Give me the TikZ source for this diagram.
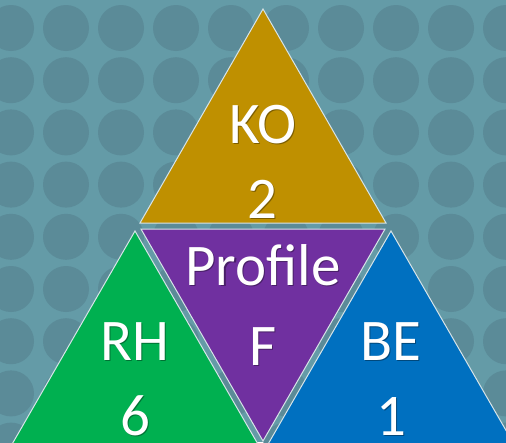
\documentclass[tikz,border=0pt]{standalone}
\usepackage{fontspec}
\setmainfont{Carlito}
\definecolor{bgteal}{RGB}{100,155,167}
\definecolor{dotteal}{RGB}{91,139,152}
\definecolor{gold}{RGB}{191,144,0}
\definecolor{purp}{RGB}{112,48,160}
\definecolor{grn}{RGB}{0,176,80}
\definecolor{blu}{RGB}{0,112,192}
\definecolor{edge}{RGB}{215,228,232}
\tikzset{
  tri/.style={draw=edge, line width=1pt, line join=miter},
  lbl/.style={anchor=base, text=white, font=\fontsize{59}{59}\selectfont, inner sep=0pt},
  shadowlbl/.style={anchor=base, text=black, opacity=0.35, font=\fontsize{59}{59}\selectfont, inner sep=0pt}
}
\newcommand{\shlabel}[3]{%
  \node[shadowlbl] (#1s) at ($(#2)+(1.2,1.2)$) {#3};
  \node[lbl] (#1) at (#2) {#3};}
\usetikzlibrary{calc}
\begin{document}
\begin{tikzpicture}[x=1pt,y=-1pt]
\useasboundingbox (0,0) rectangle (506,442);
\clip (0,0) rectangle (506,442);
\fill[bgteal] (0,0) rectangle (506,442);
\foreach \i in {0,...,9}{
  \foreach \j in {0,...,8}{
    \fill[dotteal] ({11+55*\i},{28+52.2*\j}) circle (23);
  }
}
% triangles
\filldraw[tri, fill=gold] (263,9) -- (386,223) -- (140,223) -- cycle;
\filldraw[tri, fill=purp] (141,229) -- (385,229) -- (263,441) -- cycle;
\filldraw[tri, fill=grn] (135,231) -- (259,446) -- (11,446) -- cycle;
\filldraw[tri, fill=blu] (391,231) -- (515,446) -- (267,446) -- cycle;
% labels
\shlabel{ko}{263,143}{KO}
\shlabel{two}{262,218}{2}
\shlabel{prof}{263,285}{Profile}
\shlabel{eff}{263,365}{F}
\shlabel{rh}{135,360}{RH}
\shlabel{six}{135,435}{6}
\shlabel{be}{391,360}{BE}
\shlabel{one}{391,435}{1}
\end{tikzpicture}
\end{document}
